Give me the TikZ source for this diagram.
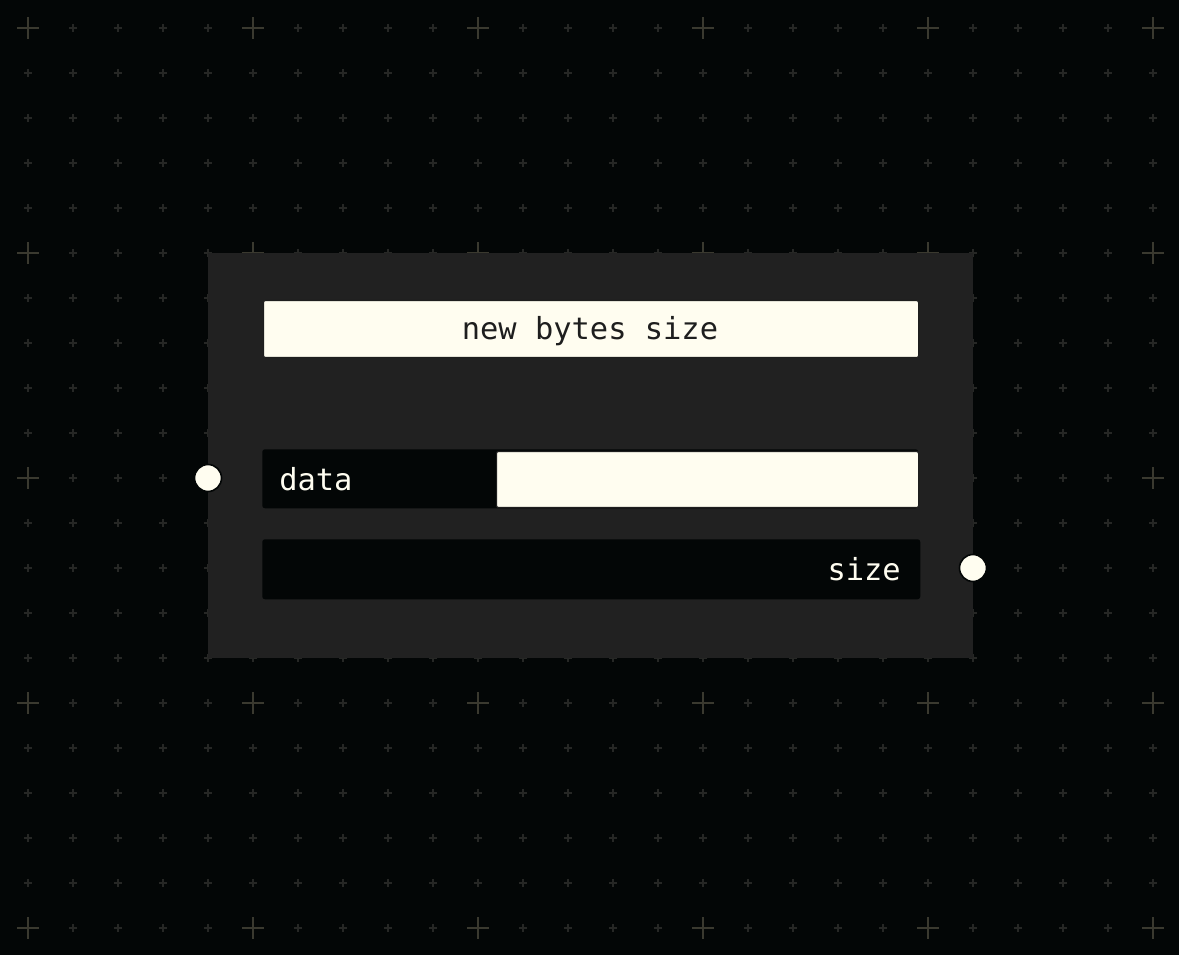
\documentclass[tikz,border=0pt]{standalone}
\usepackage{fontspec}
\setmonofont{DejaVu Sans Mono}
\definecolor{bgc}{HTML}{030606}
\definecolor{panelc}{HTML}{212121}
\definecolor{creamc}{HTML}{FFFDF0}
\definecolor{smallx}{HTML}{262725}
\definecolor{bigx}{HTML}{3A392F}
\definecolor{inkc}{HTML}{1E1E1E}
\tikzset{
  smallcross/.style={draw=smallx, line width=0.9pt},
  bigcross/.style={draw=bigx, line width=1.5pt},
  panelbox/.style={fill=panelc, draw=none},
  creambox/.style={fill=creamc, draw=inkc, line width=0.8pt, rounded corners=1.5pt},
  rowbox/.style={fill=bgc, draw=none, rounded corners=2pt},
  lbl/.style={font=\ttfamily\fontsize{22.8}{26}\selectfont, inner sep=0pt},
  port/.style={circle, fill=creamc, draw=bgc, line width=1.2pt, minimum size=27\pxu, inner sep=0pt}
}
\newlength{\pxu}\setlength{\pxu}{0.75pt}
\begin{document}
\begin{tikzpicture}[x=0.75pt,y=-0.75pt]
\fill[bgc] (0,0) rectangle (1179,955);
\useasboundingbox (0,0) rectangle (1179,955);
% grid
\foreach \i in {0,...,25}{
  \foreach \j in {0,...,20}{
    \pgfmathsetmacro{\xx}{28+45*\i}
    \pgfmathsetmacro{\yy}{28+45*\j}
    \pgfmathtruncatemacro{\mi}{mod(\i,5)}
    \pgfmathtruncatemacro{\mj}{mod(\j,5)}
    \ifnum\mi=0 \ifnum\mj=0
      \draw[bigcross] (\xx-11,\yy) -- (\xx+11,\yy) (\xx,\yy-11) -- (\xx,\yy+11);
    \else
      \draw[smallcross] (\xx-4,\yy) -- (\xx+4,\yy) (\xx,\yy-4) -- (\xx,\yy+4);
    \fi\else
      \draw[smallcross] (\xx-4,\yy) -- (\xx+4,\yy) (\xx,\yy-4) -- (\xx,\yy+4);
    \fi
  }
}
% panel
\node[panelbox, minimum width=765\pxu, minimum height=405\pxu, inner sep=0pt, anchor=north west] (panel) at (208,253) {};
% title
\node[creambox, minimum width=655\pxu, minimum height=57\pxu, inner sep=0pt, anchor=north west] (title) at (263,300) {};
\node[lbl, text=inkc] (titletext) at (590,331) {new bytes size};
% data row
\node[rowbox, minimum width=656\pxu, minimum height=59\pxu, inner sep=0pt, anchor=north west] (datarow) at (262,449) {};
\node[creambox, minimum width=422\pxu, minimum height=56\pxu, inner sep=0pt, anchor=north west] (datafield) at (496,451) {};
\node[lbl, text=creamc, anchor=west] (datatext) at (279,479) {data};
% size row
\node[rowbox, minimum width=658\pxu, minimum height=60\pxu, inner sep=0pt, anchor=north west] (sizerow) at (262,539) {};
\node[lbl, text=creamc, anchor=east] (sizetext) at (901,569) {size};
% ports
\node[port] (inport) at (208,478) {};
\node[port] (outport) at (973,568) {};
\end{tikzpicture}
\end{document}
